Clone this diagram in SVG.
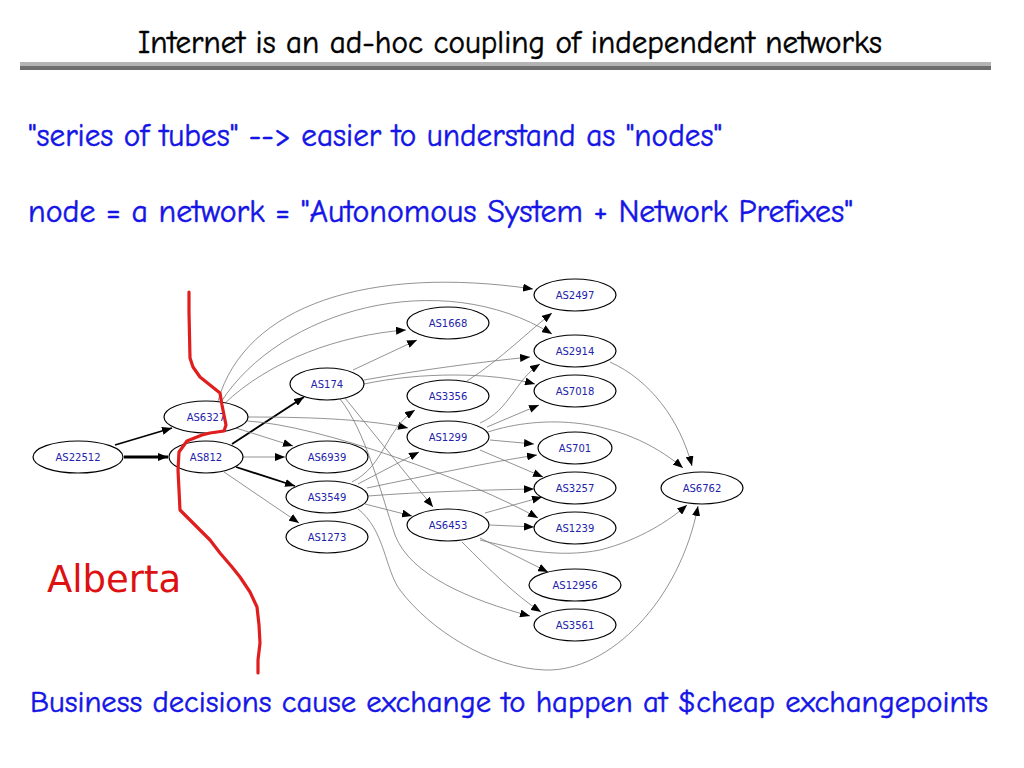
<svg xmlns="http://www.w3.org/2000/svg" width="1024" height="768" viewBox="0 0 1024 768">
<defs>
<marker id="ah" markerUnits="userSpaceOnUse" markerWidth="10" markerHeight="8" refX="10" refY="4" orient="auto"><path d="M0,0 L10,4 L0,8 z" fill="#000"/></marker>
<style>
.n ellipse{fill:#fff;stroke:#000;stroke-width:1.2}
.n text{font-family:"DejaVu Sans",sans-serif;font-size:10px;fill:#2222aa;text-anchor:middle}
.e path{fill:none;stroke:#777;stroke-width:0.8;marker-end:url(#ah)}
.e path.b{stroke:#000;stroke-width:1.8}
.e path.bb{stroke:#000;stroke-width:3}
.hand{font-family:"Comic Neue","Noto Sans","DejaVu Sans",sans-serif;font-weight:normal;stroke-width:0.5}
</style>
</defs>
<rect width="1024" height="768" fill="#fff"/>
<text class="hand" x="138" y="53" font-size="32" fill="#000" stroke="#000" textLength="744" lengthAdjust="spacingAndGlyphs">Internet is an ad-hoc coupling of independent networks</text>
<rect x="20" y="62" width="971" height="4" fill="#b4b4b4"/>
<rect x="20" y="66" width="971" height="4" fill="#6e6e6e"/>
<text class="hand" x="28" y="146" font-size="32" fill="#1414e6" stroke="#1414e6" textLength="694" lengthAdjust="spacingAndGlyphs">"series of tubes" --&gt; easier to understand as "nodes"</text>
<text class="hand" x="28" y="222" font-size="32" fill="#1414e6" stroke="#1414e6" textLength="825" lengthAdjust="spacingAndGlyphs">node = a network = "Autonomous System + Network Prefixes"</text>
<text class="hand" x="30" y="712" font-size="30" fill="#1414e6" stroke="#1414e6" textLength="958" lengthAdjust="spacingAndGlyphs">Business decisions cause exchange to happen at $cheap exchangepoints</text>

<g id="connectors" class="e">
<path class="b" style="stroke-width:1.6" d="M115,445 L172,428"/>
<path class="bb" d="M124,457 L168,457"/>
<path class="b" d="M232,444 L304,397"/>
<path class="b" d="M236,467 L295,486"/>
<path d="M243,457 L285,457"/>
<path d="M224,472 L299,523"/>
<path d="M236,428 L293,446"/>
<path d="M218,401 C245,305 370,265 533,289"/>
<path d="M221,402 C280,310 440,265 552,334"/>
<path d="M224,404 C270,360 340,335 406,330"/>
<path d="M248,417 C320,417 370,420 408,428"/>
<path d="M247,421 C320,425 470,480 538,518"/>
<path d="M353,370 L417,340"/>
<path d="M364,380 C420,370 480,362 530,357"/>
<path d="M364,384 C420,372 490,372 535,384"/>
<path d="M345,398 L433,507"/>
<path d="M340,399 C365,430 380,490 395,535 C410,575 470,600 530,616"/>
<path d="M352,482 C385,465 385,430 415,410"/>
<path d="M358,484 L419,452"/>
<path d="M367,488 C430,475 490,462 537,455"/>
<path d="M368,496 C420,492 480,490 534,489"/>
<path d="M365,504 L412,516"/>
<path d="M358,509 C385,530 385,570 400,590 C430,630 490,668 545,670 C610,672 680,600 698,506"/>
<path d="M467,381 C500,360 530,330 552,313"/>
<path d="M480,423 C510,410 515,380 540,364"/>
<path d="M487,427 L539,405"/>
<path d="M490,440 L534,444"/>
<path d="M480,450 L543,477"/>
<path d="M488,432 C540,415 620,415 683,468"/>
<path d="M485,513 L542,497"/>
<path d="M490,525 L534,527"/>
<path d="M480,538 L548,572"/>
<path d="M462,542 C490,570 515,595 541,612"/>
<path d="M480,540 C520,550 560,558 600,550 C640,540 670,520 687,505"/>
<path d="M610,362 C650,380 680,420 692,466"/>
</g>

<g id="AS22512" class="n"><ellipse cx="78" cy="457" rx="45" ry="16"/><text x="78" y="461">AS22512</text></g>
<g id="AS6327" class="n"><ellipse cx="206" cy="417" rx="42" ry="16"/><text x="206" y="421">AS6327</text></g>
<g id="AS812" class="n"><ellipse cx="206" cy="457" rx="37" ry="16"/><text x="206" y="461">AS812</text></g>
<g id="AS174" class="n"><ellipse cx="327" cy="384" rx="37" ry="16"/><text x="327" y="388">AS174</text></g>
<g id="AS6939" class="n"><ellipse cx="327" cy="457" rx="41" ry="16"/><text x="327" y="461">AS6939</text></g>
<g id="AS3549" class="n"><ellipse cx="327" cy="497" rx="41" ry="16"/><text x="327" y="501">AS3549</text></g>
<g id="AS1273" class="n"><ellipse cx="327" cy="537" rx="41" ry="16"/><text x="327" y="541">AS1273</text></g>
<g id="AS1668" class="n"><ellipse cx="448" cy="323" rx="41" ry="16"/><text x="448" y="327">AS1668</text></g>
<g id="AS3356" class="n"><ellipse cx="448" cy="396" rx="41" ry="16"/><text x="448" y="400">AS3356</text></g>
<g id="AS1299" class="n"><ellipse cx="448" cy="437" rx="41" ry="16"/><text x="448" y="441">AS1299</text></g>
<g id="AS6453" class="n"><ellipse cx="448" cy="525" rx="41" ry="16"/><text x="448" y="529">AS6453</text></g>
<g id="AS2497" class="n"><ellipse cx="575" cy="295" rx="41" ry="16"/><text x="575" y="299">AS2497</text></g>
<g id="AS2914" class="n"><ellipse cx="575" cy="351" rx="41" ry="16"/><text x="575" y="355">AS2914</text></g>
<g id="AS7018" class="n"><ellipse cx="575" cy="391" rx="41" ry="16"/><text x="575" y="395">AS7018</text></g>
<g id="AS701" class="n"><ellipse cx="575" cy="448" rx="37" ry="16"/><text x="575" y="452">AS701</text></g>
<g id="AS3257" class="n"><ellipse cx="575" cy="488" rx="41" ry="16"/><text x="575" y="492">AS3257</text></g>
<g id="AS1239" class="n"><ellipse cx="575" cy="528" rx="41" ry="16"/><text x="575" y="532">AS1239</text></g>
<g id="AS12956" class="n"><ellipse cx="575" cy="585" rx="46" ry="16"/><text x="575" y="589">AS12956</text></g>
<g id="AS3561" class="n"><ellipse cx="575" cy="625" rx="41" ry="16"/><text x="575" y="629">AS3561</text></g>
<g id="AS6762" class="n"><ellipse cx="702" cy="488" rx="41" ry="16"/><text x="702" y="492">AS6762</text></g>

<polyline points="189,292 189,312 190,358 193,367 200,377 210,385 220,393 222,405 226,425 224,431 210,433 202,435 187,441 179,452 178,470 180,510 190,520 197,527 210,540 220,553 232,567 240,577 250,592 257,607 259,625 260,643 258,660 258,673" fill="none" stroke="#e01e1e" stroke-width="3.2" stroke-linejoin="round" stroke-linecap="round"/>
<text x="47" y="592" font-family="DejaVu Sans,sans-serif" font-size="37" fill="#dd1111">Alberta</text>
</svg>
